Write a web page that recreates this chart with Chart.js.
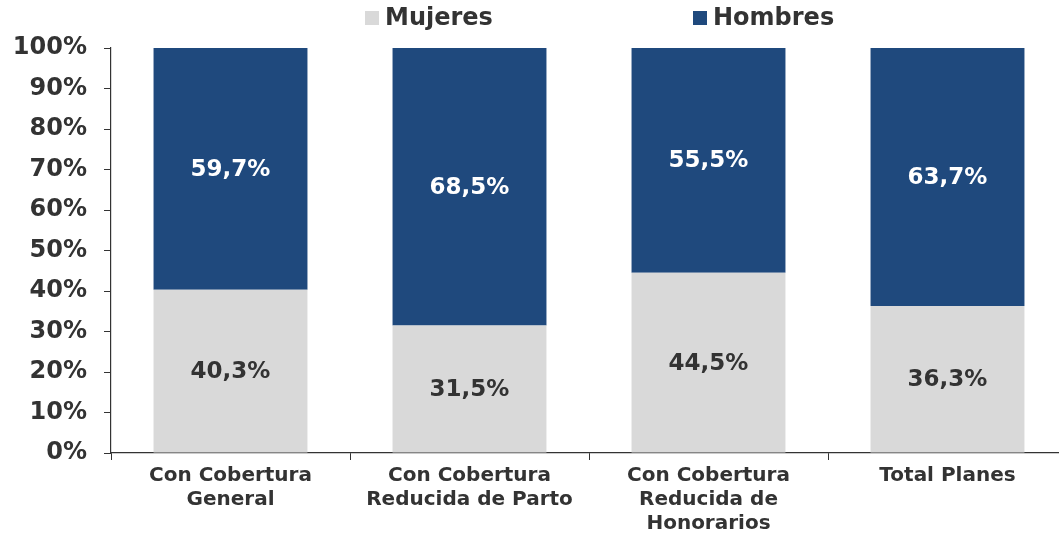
<!DOCTYPE html>
<html><head><meta charset="utf-8">
<script src="https://cdn.jsdelivr.net/npm/chart.js@4"></script>
<style>html,body{margin:0;padding:0;background:#fff;overflow:hidden;}
#wrap{position:relative;width:1070px;height:537px;}
</style></head><body>
<div id="wrap"><canvas id="c"></canvas></div>
<script>
const categories = [["Con Cobertura","General"],["Con Cobertura","Reducida de Parto"],["Con Cobertura","Reducida de","Honorarios"],"Total Planes"];
const seriesNames = ["Mujeres","Hombres"];
const mujeres = [40.3, 31.5, 44.5, 36.3];
const hombres = [59.7, 68.5, 55.5, 63.7];
const yTickValues = [0,10,20,30,40,50,60,70,80,90,100];

const FONT = '"DejaVu Sans", Verdana, sans-serif';
const TEXT = '#333333';
const GRAY = '#D9D9D9';
const BLUE = '#1F497D';

function fmt(v){ return v.toFixed(1).replace('.', ',') + '%'; }

const valueLabels = {
  id:'valueLabels',
  afterDatasetsDraw(chart){
    const ctx = chart.ctx;
    ctx.save();
    ctx.font = 'bold 23px ' + FONT;
    ctx.textAlign = 'center';
    ctx.textBaseline = 'middle';
    chart.data.datasets.forEach((ds, i) => {
      const meta = chart.getDatasetMeta(i);
      ctx.fillStyle = ds.labelColor;
      meta.data.forEach((el, j) => {
        const p = el.getProps(['x','y','base'], true);
        ctx.fillText(fmt(ds.data[j]), p.x, (p.y + p.base) / 2 + 1);
      });
    });
    ctx.restore();
  }
};

const topLegend = {
  id:'topLegend',
  afterDraw(chart){
    const ctx = chart.ctx;
    const xs = [365, 693];
    ctx.save();
    ctx.font = 'bold 24px ' + FONT;
    ctx.textBaseline = 'middle';
    ctx.textAlign = 'left';
    chart.data.datasets.forEach((ds, i) => {
      ctx.fillStyle = ds.backgroundColor;
      ctx.fillRect(xs[i], 11, 14, 14);
      ctx.fillStyle = TEXT;
      ctx.fillText(ds.label, xs[i] + 20, 19);
    });
    ctx.restore();
  }
};

new Chart(document.getElementById('c'), {
  type:'bar',
  data:{
    labels: categories,
    datasets:[
      {label: seriesNames[0], data: mujeres, backgroundColor: GRAY, labelColor: TEXT, categoryPercentage:0.644, barPercentage:1},
      {label: seriesNames[1], data: hombres, backgroundColor: BLUE, labelColor: '#FFFFFF', categoryPercentage:0.644, barPercentage:1}
    ]
  },
  options:{
    responsive:true,
    maintainAspectRatio:false,
    devicePixelRatio:1,
    animation:false,
    layout:{padding:{left:0, right:3, top:48, bottom:0}},
    plugins:{legend:{display:false}, tooltip:{enabled:false}},
    scales:{
      x:{
        stacked:true,
        afterFit(s){ s.height = 84; },
        grid:{drawOnChartArea:false, drawTicks:true, tickLength:7, color:'#333', offset:true},
        border:{display:true, color:'#333', width:1.2},
        ticks:{color:TEXT, padding:4, font:{family:FONT, size:20, weight:'bold', lineHeight:1.2}, maxRotation:0, autoSkip:false}
      },
      y:{
        stacked:true,
        min:0, max:100,
        afterFit(s){ s.width = 111; },
        afterBuildTicks(s){ s.ticks = yTickValues.map(v => ({value:v})); },
        grid:{drawOnChartArea:false, drawTicks:true, tickLength:7, color:'#333'},
        border:{display:true, color:'#333', width:1.2},
        ticks:{color:TEXT, padding:17, font:{family:FONT, size:24, weight:'bold'}, callback:(v)=> v + '%'}
      }
    }
  },
  plugins:[valueLabels, topLegend]
});
</script>
</body></html>
